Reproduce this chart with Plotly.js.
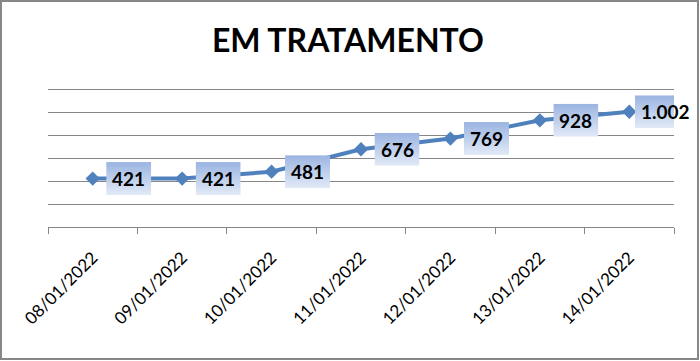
<!DOCTYPE html>
<html>
<head>
<meta charset="utf-8">
<script src="https://cdn.plot.ly/plotly-3.0.1.min.js"></script>
<style>
  html, body { margin: 0; padding: 0; background: #fff; }
  #wrap { position: relative; width: 700px; height: 361px; }
  #chart { width: 700px; height: 361px; }
  #frame { position: absolute; left: 0px; top: 0px; width: 699px; height: 360px;
           border: 2px solid #878787; box-sizing: border-box; pointer-events: none; }
</style>
</head>
<body>
<div id="wrap"><div id="chart"></div><div id="frame"></div></div>
<script>
const dates = ["08/01/2022","09/01/2022","10/01/2022","11/01/2022","12/01/2022","13/01/2022","14/01/2022"];
const values = [421, 421, 481, 676, 769, 928, 1002];
const labels = ["421","421","481","676","769","928","1.002"];
const chartTitle = "EM TRATAMENTO";

const plotW = 626, plotH = 140, yTop = 1217.4;
const catPx = plotW / dates.length;
const labelFont = "bold 19px Lato";
const cv = document.createElement("canvas").getContext("2d");
cv.font = labelFont;

const gradSvg = '<svg xmlns="http://www.w3.org/2000/svg" width="100" height="100" preserveAspectRatio="none">' +
  '<defs><linearGradient id="g" x1="0" y1="0" x2="0" y2="1">' +
  '<stop offset="0" stop-color="#9AB4E1"/><stop offset="1" stop-color="#E2EAF7"/></linearGradient></defs>' +
  '<rect width="100" height="100" fill="url(#g)"/></svg>';
const gradSrc = "data:image/svg+xml;base64," + btoa(gradSvg);

const offsetPx = 36;
const images = [], annotations = [];
dates.forEach((d, i) => {
  const w = cv.measureText(labels[i]).width + 12;
  images.push({
    source: gradSrc, xref: "x", yref: "y",
    x: i + offsetPx / catPx, y: values[i],
    sizex: w / catPx, sizey: 33 / plotH * yTop,
    xanchor: "center", yanchor: "middle", sizing: "stretch", layer: "above"
  });
  annotations.push({
    xref: "x", yref: "y", x: i, y: values[i], text: labels[i],
    showarrow: false, xshift: offsetPx, yshift: 0,
    font: { family: "Lato, 'Open Sans', sans-serif", size: 19, color: "#000", weight: "bold" },
    xanchor: "center", yanchor: "middle"
  });
});

const trace = {
  x: dates, y: values, type: "scatter", mode: "lines+markers",
  line: { color: "#4F81BD", width: 4 },
  marker: { symbol: "diamond", size: 11, color: "#4F81BD" },
  hoverinfo: "skip"
};

const layout = {
  width: 700, height: 361,
  margin: { l: 48, r: 26, t: 87, b: 134 },
  paper_bgcolor: "#fff", plot_bgcolor: "#fff",
  showlegend: false,
  title: {
    text: "<b>" + chartTitle + "</b>",
    font: { family: "Lato, 'Open Sans', sans-serif", size: 32, color: "#000" },
    x: 0.497, xanchor: "center", y: 1 - 41 / 361, yanchor: "middle", yref: "container"
  },
  xaxis: {
    type: "category", range: [-0.5, dates.length - 0.5],
    showgrid: false, zeroline: false,
    showline: true, linecolor: "#868686", linewidth: 1,
    ticks: "outside", tickson: "boundaries", ticklen: 6, tickcolor: "#868686", tickwidth: 1,
    tickangle: -45, ticklabelstandoff: 13,
    tickfont: { family: "Lato, 'Open Sans', sans-serif", size: 17, color: "#000" },
    fixedrange: true
  },
  yaxis: {
    range: [0, yTop], dtick: 200, tick0: 0,
    showgrid: true, gridcolor: "#868686", gridwidth: 1,
    zeroline: false, showline: false, showticklabels: false, ticks: "",
    fixedrange: true
  },
  images: images,
  annotations: annotations
};

Plotly.newPlot("chart", [trace], layout, { staticPlot: true, displayModeBar: false });
</script>
</body>
</html>
